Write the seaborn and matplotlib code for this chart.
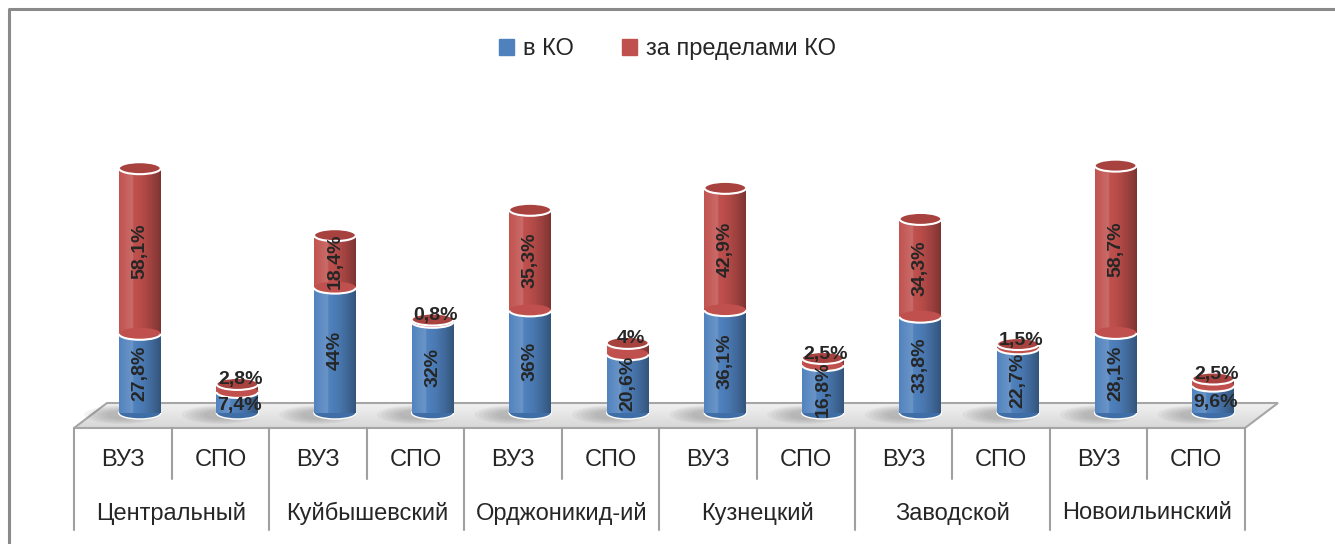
import numpy as np
import pandas as pd
import seaborn as sns
import matplotlib.pyplot as plt
from matplotlib.patches import Ellipse, Arc, Polygon

sns.set_style("white")
plt.rcParams["font.family"] = ["Liberation Sans", "DejaVu Sans"]

# data
districts = ["Центральный", "Куйбышевский", "Орджоникид-ий", "Кузнецкий", "Заводской", "Новоильинский"]
kinds = ["ВУЗ", "СПО"]
in_ko = [27.8, 7.4, 44, 32, 36, 20.6, 36.1, 16.8, 33.8, 22.7, 28.1, 9.6]
out_ko = [58.1, 2.8, 18.4, 0.8, 35.3, 4, 42.9, 2.5, 34.3, 1.5, 58.7, 2.5]
series_names = ["в КО", "за пределами КО"]

blue = "#4F81BD"
red = "#C0504D"
red_top = "#A8423F"

W, H = 1335, 544
fig = plt.figure(figsize=(W / 100, H / 100), dpi=100)

# background layer in pixel coords (floor, frame)
bg = fig.add_axes([0, 0, 1, 1])
bg.set_xlim(0, W)
bg.set_ylim(H, 0)
bg.axis("off")
bg.plot([9, 9, W], [H, 9, 9], color="#8a8a8a", lw=2.2)

floor = Polygon([(74, 428), (1245, 428), (1278, 403), (107, 403)], closed=True,
                facecolor="none", edgecolor="#a6a6a6", lw=1.5, zorder=2)
bg.add_patch(floor)
grad = np.linspace(0, 1, 60).reshape(-1, 1)
im = bg.imshow(grad, extent=[74, 1278, 428, 403], cmap=sns.light_palette("#d0d0d0", as_cmap=True),
               vmin=0, vmax=1.3, aspect="auto", zorder=1)
im.set_clip_path(floor)

# table under the floor
tax = fig.add_axes([74 / W, (H - 530) / H, (1245 - 74) / W, 102 / H])
tax.set_xlim(-0.5, 11.5)
tax.set_ylim(2, 0)
tax.axis("off")
tax.patch.set_alpha(0)
n = len(in_ko)
for b in range(n + 1):
    x = b - 0.5
    tax.plot([x, x], [0, 2 if b % 2 == 0 else 1], color="#a0a0a0", lw=1.5, clip_on=False)
for i in range(n):
    tax.text(i, 0.63, kinds[i % 2], ha="center", va="center", fontsize=17)
for j, d in enumerate(districts):
    tax.text(2 * j + 0.5, 1.67, d, ha="center", va="center", fontsize=17)

# bars
px_per_unit = 2.85
ax = fig.add_axes([91 / W, (H - 413) / H, 1171 / W, 313 / H])
ax.patch.set_alpha(0)
labels = [f"{d}\n{k}" for d in districts for k in kinds]
df = pd.DataFrame({"cat": labels, "in_ko": in_ko, "out_ko": out_ko})
df["total"] = df["in_ko"] + df["out_ko"]

bw = 0.43
sns.barplot(data=df, x="cat", y="total", order=labels, color=red, saturation=1,
            width=bw, ax=ax, zorder=2, errorbar=None)
sns.barplot(data=df, x="cat", y="in_ko", order=labels, color=blue, saturation=1,
            width=bw, ax=ax, zorder=3, errorbar=None)
ax.axis("off")

eh = 12 / px_per_unit  # ellipse height in data units
shade = np.zeros((1, 80, 4))
xs = np.linspace(0, 1, 80)
shade[0, :, 0:3] = np.where(xs < 0.35, 1.0, 0.0)[:, None]
shade[0, :, 3] = np.where(xs < 0.35, 0.15 * (1 - np.abs(xs - 0.3) / 0.35), 0.35 * ((xs - 0.35) / 0.65) ** 1.5)


def fmt(val):
    return f"{val:g}".replace(".", ",") + "%"


red_bars = ax.patches[:n]
blue_bars = ax.patches[n:2 * n]
for i in range(n):
    rb, bb = red_bars[i], blue_bars[i]
    x0, w = bb.get_x(), bb.get_width()
    xc = x0 + w / 2
    v, r = in_ko[i], out_ko[i]
    tot = v + r
    for p in (rb, bb):
        p.set_edgecolor("none")
    # soft shadow on the floor
    for k in range(6):
        ax.add_patch(Ellipse((xc - 0.18, -0.6), 0.78 - 0.09 * k, 6.5 - 0.7 * k,
                             facecolor="#6a6a6a", alpha=0.07, edgecolor="none", zorder=1, clip_on=False))
    # cylinder shading
    ax.imshow(shade, extent=[x0, x0 + w, v, tot], aspect="auto", zorder=2.1)
    ax.imshow(shade, extent=[x0, x0 + w, 0, v], aspect="auto", zorder=3.1)
    # bottom of cylinder
    ax.add_patch(Ellipse((xc, 0), w, eh, facecolor="#3f6ea6", edgecolor="white", lw=1,
                         zorder=2.5, clip_on=False))
    # boundary between segments
    ax.add_patch(Ellipse((xc, v), w, eh, facecolor=red, edgecolor="none", zorder=4))
    ax.add_patch(Arc((xc, v), w, eh, theta1=180, theta2=360, color="white", lw=1.5, zorder=4.1))
    # top of cylinder
    ax.add_patch(Ellipse((xc, tot), w, eh, facecolor=red_top, edgecolor="white", lw=1.5, zorder=5))

    # labels
    if v >= 15:
        ax.text(xc, v / 2, fmt(v), rotation=90, ha="center", va="center",
                fontsize=14, fontweight="bold", zorder=6)
    else:
        ax.text(xc + 0.02, v / 2 - 1, fmt(v), ha="center", va="center",
                fontsize=14, fontweight="bold", zorder=6)
    if r >= 15:
        ax.text(xc, v + r / 2, fmt(r), rotation=90, ha="center", va="center",
                fontsize=14, fontweight="bold", zorder=6)
    else:
        ax.text(xc + 0.03, tot + 1.4, fmt(r), ha="center", va="center",
                fontsize=14, fontweight="bold", zorder=6)

ax.set_xlim(-0.5, 11.5)
ax.set_ylim(0, 313 / px_per_unit)

handles = [plt.Rectangle((0, 0), 1, 1, color=c) for c in (blue, red)]
fig.legend(handles, series_names, loc="center", bbox_to_anchor=(0.5, 1 - 49 / H), ncol=2,
           frameon=False, fontsize=17, handlelength=0.65, handleheight=0.65,
           handletextpad=0.4, columnspacing=2.0)

fig.savefig("out.png", dpi=100)
